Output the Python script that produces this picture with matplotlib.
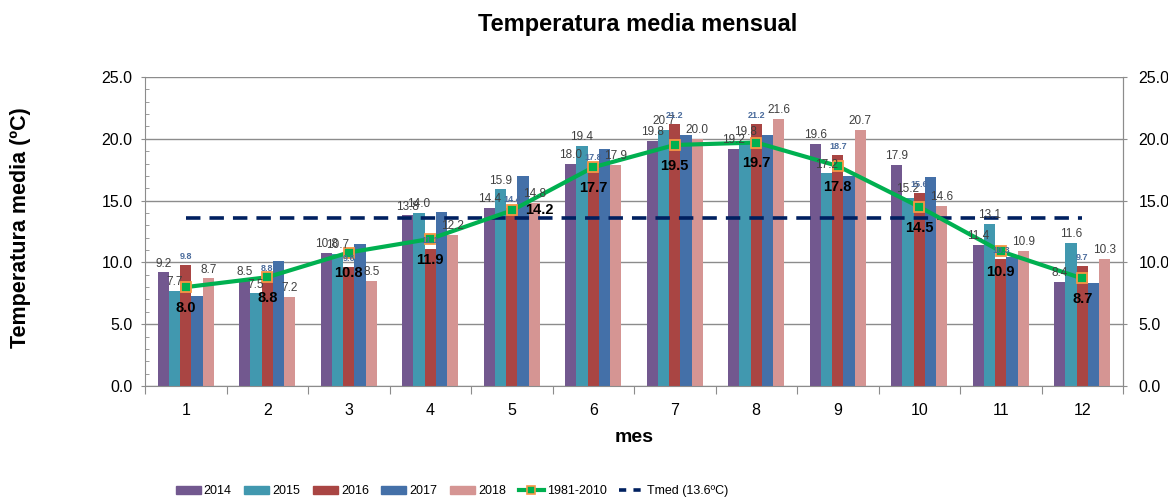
import matplotlib
matplotlib.use("Agg")
import matplotlib.pyplot as plt
from matplotlib.patches import Patch
from matplotlib.lines import Line2D
from matplotlib.ticker import MultipleLocator, FixedLocator

plt.rcParams['font.family'] = ['Liberation Sans', 'DejaVu Sans']

# data
meses = [1, 2, 3, 4, 5, 6, 7, 8, 9, 10, 11, 12]
t2014 = [9.2, 8.5, 10.8, 13.8, 14.4, 18.0, 19.8, 19.2, 19.6, 17.9, 11.4, 8.4]
t2015 = [7.7, 7.5, 10.7, 14.0, 15.9, 19.4, 20.7, 19.8, 17.2, 15.2, 13.1, 11.6]
t2016 = [9.8, 8.8, 9.6, 11.1, 14.4, 17.8, 21.2, 21.2, 18.7, 15.6, 10.3, 9.7]
t2017 = [7.3, 10.1, 11.5, 14.1, 17.0, 19.2, 20.3, 20.3, 17.0, 16.9, 10.4, 8.3]
t2018 = [8.7, 7.2, 8.5, 12.2, 14.8, 17.9, 20.0, 21.6, 20.7, 14.6, 10.9, 10.3]
normal = [8.0, 8.8, 10.8, 11.9, 14.2, 17.7, 19.5, 19.7, 17.8, 14.5, 10.9, 8.7]
tmed = 13.6

years = ['2014', '2015', '2016', '2017', '2018']
series = [t2014, t2015, t2016, t2017, t2018]
colors = ['#72588F', '#4198AF', '#A94543', '#4470A8', '#D59593']

fig = plt.figure(figsize=(11.68, 4.98), dpi=100)
ax = fig.add_axes([145/1168, 1-386/498, (1123-145)/1168, (386-77)/498])

w = 0.138
for i, (yr, vals, c) in enumerate(zip(years, series, colors)):
    xs = [m + (i - 2) * w for m in meses]
    ax.bar(xs, vals, width=w, color=c, zorder=2)
    if yr == '2017':
        continue
    for x, v in zip(xs, vals):
        if yr == '2016':
            ax.annotate(f'{v:.1f}', (x, v), xytext=(0, 3), textcoords='offset points',
                        ha='center', va='bottom', fontsize=6.5, fontweight='bold',
                        color='#4A6B9C', zorder=5)
        else:
            ax.annotate(f'{v:.1f}', (x, v), xytext=(0, 2), textcoords='offset points',
                        ha='center', va='bottom', fontsize=8.5, color='#404040', zorder=5)

ax.plot([meses[0], meses[-1]], [tmed, tmed], color='#002060', lw=2.6,
        dashes=(4, 2.5), zorder=3)
ax.plot(meses, normal, color='#00B050', lw=3, marker='s', ms=7,
        mfc='#00B050', mec='#F79646', mew=1.3, zorder=4)
for m, v in zip(meses, normal):
    off = (20, 0) if m == 5 else (0, -15)
    ax.annotate(f'{v:.1f}', (m, v), xytext=off, textcoords='offset points',
                ha='center', va='center', fontsize=10.5, fontweight='bold',
                color='black', zorder=6)

ax.set_xlim(0.5, 12.5)
ax.set_ylim(0, 25)
ax.yaxis.set_major_locator(MultipleLocator(5))
ax.yaxis.set_minor_locator(MultipleLocator(1))
ax.yaxis.set_major_formatter(plt.FuncFormatter(lambda v, p: f'{v:.1f}'))
ax.grid(axis='y', color='#8C8C8C', lw=1, zorder=0)
ax.set_axisbelow(True)

ax.xaxis.set_major_locator(FixedLocator([m - 0.5 for m in meses] + [12.5]))
ax.xaxis.set_minor_locator(FixedLocator(meses))
ax.set_xticklabels([], minor=False)
ax.set_xticklabels([str(m) for m in meses], minor=True)
ax.tick_params(axis='x', which='major', length=6, color='#8C8C8C', direction='out')
ax.tick_params(axis='x', which='minor', length=0, pad=12, labelsize=11.5)
ax.tick_params(axis='y', which='major', length=3, color='#8C8C8C', direction='out',
               pad=6, labelsize=11.5)
ax.tick_params(axis='y', which='minor', length=3, color='#8C8C8C', direction='in')

for s in ['left', 'right', 'bottom']:
    ax.spines[s].set_color('#8C8C8C')
ax.spines['top'].set_visible(False)

ax2 = ax.twinx()
ax2.set_ylim(0, 25)
ax2.yaxis.set_major_locator(MultipleLocator(5))
ax2.yaxis.set_major_formatter(plt.FuncFormatter(lambda v, p: f'{v:.1f}'))
ax2.tick_params(axis='y', length=3, color='#8C8C8C', pad=8, labelsize=11.5)
for s in ['left', 'top', 'bottom']:
    ax2.spines[s].set_visible(False)
ax2.spines['right'].set_color('#8C8C8C')

fig.text(638/1168, 1-25/498, 'Temperatura media mensual', ha='center', va='center',
         fontsize=17, fontweight='bold')
fig.text(21/1168, 1-228/498, 'Temperatura media (ºC)', ha='center', va='center',
         rotation=90, fontsize=15.5, fontweight='bold')
fig.text(634/1168, 1-437/498, 'mes', ha='center', va='center',
         fontsize=14, fontweight='bold')

handles = [Patch(color=c) for c in colors]
handles.append(Line2D([], [], color='#00B050', lw=3, marker='s', ms=6,
                      mfc='#00B050', mec='#F79646', mew=1.2))
handles.append(Line2D([], [], color='#002060', lw=2.6, dashes=(2, 2)))
labels = years + ['1981-2010', 'Tmed (13.6ºC)']
fig.legend(handles, labels, loc='center', bbox_to_anchor=(452/1168, 1-491/498),
           ncol=7, frameon=False, handlelength=2.0, handleheight=0.6,
           columnspacing=1.0, handletextpad=0.25,
           prop={'size': 9})

fig.savefig('out.png', dpi=100)
